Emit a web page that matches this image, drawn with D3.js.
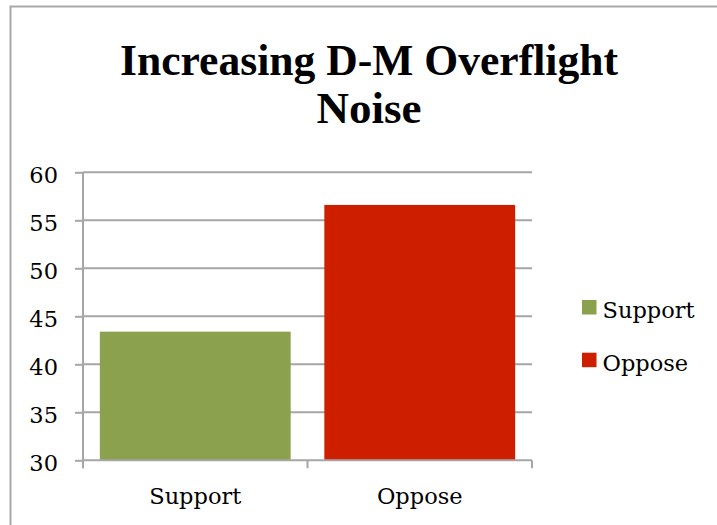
<!DOCTYPE html>
<html>
<head>
<meta charset="utf-8">
<script src="https://cdn.jsdelivr.net/npm/d3@7"></script>
<style>
  html, body { margin: 0; padding: 0; background: #fff; }
  svg { display: block; }
</style>
</head>
<body>
<svg id="chart" width="717" height="525"></svg>
<script>
// Survey result: support vs. oppose (percent)
const categories = ["Support", "Oppose"];
const values = [43.4, 56.6];
const colors = ["#8ba14e", "#cd1f00"];
const yTicks = [30, 35, 40, 45, 50, 55, 60];
const titleLines = ["Increasing D-M Overflight", "Noise"];

const svg = d3.select("#chart");
const labelFont = "'DejaVu Serif', serif";
const titleFont = "'Liberation Serif', 'Times New Roman', serif";
const gridColor = "#a6a6a6";

// Plot area
const plot = { left: 83, right: 532, top: 172.3, bottom: 460.3 };

// Chart frame (right and bottom edges run past the page)
svg.append("rect")
  .attr("x", 10.5).attr("y", 6.5)
  .attr("width", 760).attr("height", 560)
  .attr("fill", "none")
  .attr("stroke", "#a8a8a8")
  .attr("stroke-width", 2);

// Title
const title = svg.append("text")
  .attr("text-anchor", "middle")
  .attr("font-family", titleFont)
  .attr("font-weight", "bold")
  .attr("font-size", 45)
  .attr("fill", "#000");
title.append("tspan").attr("x", 369).attr("y", 75).text(titleLines[0])
  .attr("textLength", 498).attr("lengthAdjust", "spacingAndGlyphs");
title.append("tspan").attr("x", 369).attr("y", 123).text(titleLines[1]);

// Scales
const x = d3.scaleBand()
  .domain(categories)
  .range([plot.left, plot.right])
  .paddingInner(0.15)
  .paddingOuter(0.075);

const y = d3.scaleLinear()
  .domain([30, 60])
  .range([plot.bottom, plot.top]);

// Horizontal gridlines
svg.append("g")
  .selectAll("line")
  .data(yTicks.filter(d => d !== 30))
  .join("line")
  .attr("x1", plot.left).attr("x2", plot.right)
  .attr("y1", d => y(d)).attr("y2", d => y(d))
  .attr("stroke", gridColor)
  .attr("stroke-width", 2);

// Bars
svg.append("g")
  .selectAll("rect")
  .data(categories)
  .join("rect")
  .attr("x", d => x(d))
  .attr("width", x.bandwidth())
  .attr("y", (d, i) => y(values[i]))
  .attr("height", (d, i) => y(30) - y(values[i]))
  .attr("fill", (d, i) => colors[i]);

// Y axis
const yAxis = svg.append("g")
  .attr("transform", `translate(${plot.left},0)`)
  .call(d3.axisLeft(y).tickValues(yTicks).tickSize(8).tickPadding(0).tickSizeOuter(0));
yAxis.select(".domain").remove();
yAxis.selectAll(".tick line").attr("stroke", gridColor).attr("stroke-width", 2);
yAxis.selectAll(".tick text")
  .attr("x", -25)
  .attr("dy", "0.45em")
  .attr("font-family", labelFont)
  .attr("font-size", 22.5)
  .attr("fill", "#000");
yAxis.append("line")
  .attr("x1", 0).attr("x2", 0)
  .attr("y1", plot.top).attr("y2", plot.bottom + 8)
  .attr("stroke", gridColor).attr("stroke-width", 2);

// X axis: baseline with ticks at the category boundaries
const xAxis = svg.append("g");
xAxis.append("line")
  .attr("x1", plot.left).attr("x2", plot.right)
  .attr("y1", plot.bottom).attr("y2", plot.bottom)
  .attr("stroke", gridColor).attr("stroke-width", 2);
const edges = [plot.left, ...categories.slice(1).map(c => x(c) - (x.step() - x.bandwidth()) / 2), plot.right];
xAxis.selectAll("line.tick")
  .data(edges)
  .join("line")
  .attr("class", "tick")
  .attr("x1", d => d).attr("x2", d => d)
  .attr("y1", plot.bottom).attr("y2", plot.bottom + 8)
  .attr("stroke", gridColor).attr("stroke-width", 2);
xAxis.selectAll("text")
  .data(categories)
  .join("text")
  .attr("x", d => x(d) + x.bandwidth() / 2)
  .attr("y", 504)
  .attr("text-anchor", "middle")
  .attr("font-family", labelFont)
  .attr("font-size", 22.5)
  .attr("fill", "#000")
  .text(d => d);

// Legend
const legend = svg.append("g")
  .selectAll("g")
  .data(categories)
  .join("g")
  .attr("transform", (d, i) => `translate(582,${300 + i * 52.7})`);
legend.append("rect")
  .attr("width", 14.5).attr("height", 14.5)
  .attr("fill", (d, i) => colors[i]);
legend.append("text")
  .attr("x", 20.5).attr("y", 18)
  .attr("font-family", labelFont)
  .attr("font-size", 22.5)
  .attr("fill", "#000")
  .text(d => d);
</script>
</body>
</html>
